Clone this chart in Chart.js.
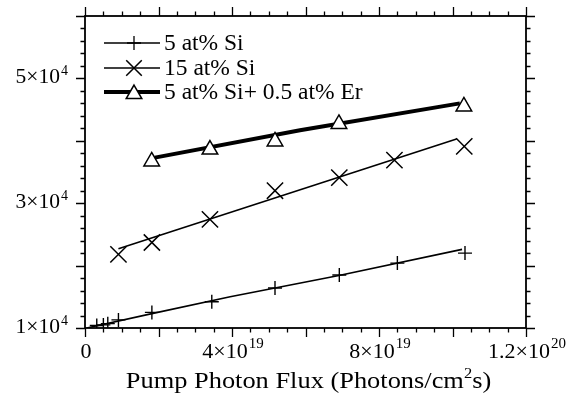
<!DOCTYPE html>
<html>
<head>
<meta charset="utf-8">
<title>Pump photon flux</title>
<script src="https://cdn.jsdelivr.net/npm/chart.js@4.4.1/dist/chart.umd.min.js"></script>
<style>
  html, body { margin: 0; padding: 0; background: #fff; }
  #wrap { width: 580px; height: 401px; }
</style>
</head>
<body>
<div id="wrap"><canvas id="fluxChart" width="580" height="401"></canvas></div>
<script>
// values (x: photons/cm^2 s)
const seriesNames = ["5 at% Si", "15 at% Si", "5 at% Si+ 0.5 at% Er"];

const si5X = [0.32e19, 0.5e19, 0.62e19, 0.91e19, 1.82e19, 3.45e19, 5.17e19, 6.92e19, 8.5e19, 1.034e20];
const si5Y = [1.04e4, 1.05e4, 1.07e4, 1.13e4, 1.25e4, 1.42e4, 1.64e4, 1.85e4, 2.04e4, 2.2e4];
const si5FitX = [0.05e19, 1.82e19, 3.95e19, 6.91e19, 1.026e20];
const si5FitY = [1.0e4, 1.23e4, 1.5e4, 1.84e4, 2.26e4];

const si15X = [0.91e19, 1.82e19, 3.4e19, 5.17e19, 6.92e19, 8.42e19, 1.032e20];
const si15Y = [2.18e4, 2.37e4, 2.74e4, 3.2e4, 3.41e4, 3.69e4, 3.91e4];
const si15FitX = [0.91e19, 1.011e20];
const si15FitY = [2.27e4, 4.03e4];

const erX = [1.815e19, 3.4e19, 5.17e19, 6.91e19, 1.031e20];
const erY = [3.67e4, 3.86e4, 3.99e4, 4.27e4, 4.55e4];
const erFitX = [1.9e19, 5.85e19, 1.02e20];
const erFitY = [3.73e4, 4.17e4, 4.6e4];

// tick labels: [mantissa, exponent]
const xTickValues = [0, 4e19, 8e19, 1.2e20];
const xTickLabels = [["0", ""], ["4×10", "19"], ["8×10", "19"], ["1.2×10", "20"]];
const yTickValues = [1e4, 3e4, 5e4];
const yTickLabels = [["1×10", "4"], ["3×10", "4"], ["5×10", "4"]];

const FONT = '"Liberation Serif", "Times New Roman", serif';

const pts = (xs, ys) => xs.map((x, i) => ({ x, y: ys[i] }));

/* ── helpers ── */
function drawSup(ctx, main, sup, x, y, align, size, supSize, raise) {
  ctx.font = `${size}px ${FONT}`;
  const wm = ctx.measureText(main).width;
  ctx.font = `${supSize}px ${FONT}`;
  const ws = sup ? ctx.measureText(sup).width + 1 : 0;
  const total = wm + ws;
  let x0 = x;
  if (align === "center") x0 = x - total / 2;
  else if (align === "right") x0 = x - total;
  ctx.textAlign = "left";
  ctx.textBaseline = "alphabetic";
  ctx.font = `${size}px ${FONT}`;
  ctx.fillText(main, x0, y);
  if (sup) {
    ctx.font = `${supSize}px ${FONT}`;
    ctx.fillText(sup, x0 + wm + 1, y - raise);
  }
}

function marker(ctx, style, x, y, r) {
  ctx.beginPath();
  if (style === "cross") {
    ctx.moveTo(x - r, y); ctx.lineTo(x + r, y);
    ctx.moveTo(x, y - r); ctx.lineTo(x, y + r);
    ctx.stroke();
  } else if (style === "crossRot") {
    const d = r * Math.SQRT1_2;
    ctx.moveTo(x - d, y - d); ctx.lineTo(x + d, y + d);
    ctx.moveTo(x + d, y - d); ctx.lineTo(x - d, y + d);
    ctx.stroke();
  } else {
    const s = Math.sin(Math.PI / 3) * r;
    ctx.moveTo(x, y - r);
    ctx.lineTo(x + s, y + r / 2);
    ctx.lineTo(x - s, y + r / 2);
    ctx.closePath();
    ctx.fillStyle = "#fff";
    ctx.fill();
    ctx.stroke();
  }
}

/* ── frame, ticks, labels, legend ── */
const framePlugin = {
  id: "frame",
  afterDraw(chart) {
    const { ctx, chartArea: a, scales: { x, y } } = chart;
    ctx.save();
    ctx.strokeStyle = "#000";
    ctx.fillStyle = "#000";

    // box
    ctx.lineWidth = 1.8;
    ctx.strokeRect(a.left, a.top, a.right - a.left, a.bottom - a.top);

    // ticks (outside on all four sides)
    ctx.lineWidth = 1.3;
    ctx.beginPath();
    for (let i = 0; i <= 24; i++) {
      const px = Math.round(x.getPixelForValue(i * 5e18)) + 0.5;
      const len = i % 4 === 0 ? 9 : 4.5;
      ctx.moveTo(px, a.bottom); ctx.lineTo(px, a.bottom + len);
      ctx.moveTo(px, a.top); ctx.lineTo(px, a.top - len);
    }
    for (let i = 0; i <= 25; i++) {
      const py = Math.round(y.getPixelForValue(1e4 + i * 2e3)) + 0.5;
      const len = i % 5 === 0 ? 9 : 4.5;
      ctx.moveTo(a.left, py); ctx.lineTo(a.left - len, py);
      ctx.moveTo(a.right, py); ctx.lineTo(a.right + len, py);
    }
    ctx.stroke();

    // tick labels
    xTickValues.forEach((v, i) => {
      const [m, e] = xTickLabels[i];
      drawSup(ctx, m, e, x.getPixelForValue(v) + 1, a.bottom + 30, "center", 22, 15, 10);
    });
    yTickValues.forEach((v, i) => {
      const [m, e] = yTickLabels[i];
      drawSup(ctx, m, e, a.left - 17, y.getPixelForValue(v) + 4.5, "right", 21.5, 14, 8);
    });

    // axis title
    ctx.save();
    const cx = (a.left + a.right) / 2 + 3;
    ctx.translate(cx, a.bottom + 60);
    ctx.scale(1.1, 1);
    ctx.font = `24px ${FONT}`;
    const t1 = "Pump Photon Flux (Photons/cm", t2 = "2", t3 = "s)";
    const w1 = ctx.measureText(t1).width, w3 = ctx.measureText(t3).width;
    ctx.font = `15px ${FONT}`;
    const w2 = ctx.measureText(t2).width;
    const tw = w1 + w2 + w3;
    ctx.textAlign = "left";
    ctx.font = `24px ${FONT}`;
    ctx.fillText(t1, -tw / 2, 0);
    ctx.fillText(t3, -tw / 2 + w1 + w2, 0);
    ctx.font = `15px ${FONT}`;
    ctx.fillText(t2, -tw / 2 + w1, -10);
    ctx.restore();

    // legend
    const rows = [
      { style: "cross", r: 7, lw: 1.3, y: 43 },
      { style: "crossRot", r: 11, lw: 1.5, y: 68 },
      { style: "triangle", r: 9, lw: 1.5, lineW: 4, y: 92 }
    ];
    rows.forEach((row, i) => {
      ctx.lineWidth = row.lineW || 1.4;
      ctx.beginPath();
      ctx.moveTo(104, row.y); ctx.lineTo(160, row.y);
      ctx.stroke();
      ctx.lineWidth = row.lw;
      marker(ctx, row.style, 134, row.y + (row.style === "triangle" ? 2 : 0), row.r);
      ctx.fillStyle = "#000";
      ctx.font = `23.5px ${FONT}`;
      ctx.textAlign = "left";
      ctx.textBaseline = "middle";
      ctx.fillText(seriesNames[i], 164, row.y + 1);
    });
    ctx.restore();
  }
};

const markerBase = { showLine: false, borderColor: "#000", pointBorderColor: "#000", order: 0 };
const fitBase = { showLine: true, pointRadius: 0, borderColor: "#000", fill: false, order: 1 };

new Chart(document.getElementById("fluxChart"), {
  type: "scatter",
  data: {
    datasets: [
      { ...markerBase, label: seriesNames[0], data: pts(si5X, si5Y), pointStyle: "cross", pointRadius: 7, pointBorderWidth: 1.4 },
      { ...markerBase, label: seriesNames[1], data: pts(si15X, si15Y), pointStyle: "crossRot", pointRadius: 11.5, pointBorderWidth: 1.5 },
      { ...markerBase, label: seriesNames[2], data: pts(erX, erY), pointStyle: "triangle", pointRadius: 9, pointBorderWidth: 1.5,
        pointBackgroundColor: "#fff", backgroundColor: "#fff" },
      { ...fitBase, data: pts(si5FitX, si5FitY), borderWidth: 1.6 },
      { ...fitBase, data: pts(si15FitX, si15FitY), borderWidth: 1.6 },
      { ...fitBase, data: pts(erFitX, erFitY), borderWidth: 4 }
    ]
  },
  options: {
    responsive: false,
    animation: false,
    events: [],
    layout: { padding: { left: 85, right: 54, top: 16, bottom: 73 } },
    plugins: { legend: { display: false }, tooltip: { enabled: false } },
    scales: {
      x: { type: "linear", display: false, min: 0, max: 1.2e20 },
      y: { type: "linear", display: false, min: 1e4, max: 6e4 }
    }
  },
  plugins: [framePlugin]
});
</script>
</body>
</html>
